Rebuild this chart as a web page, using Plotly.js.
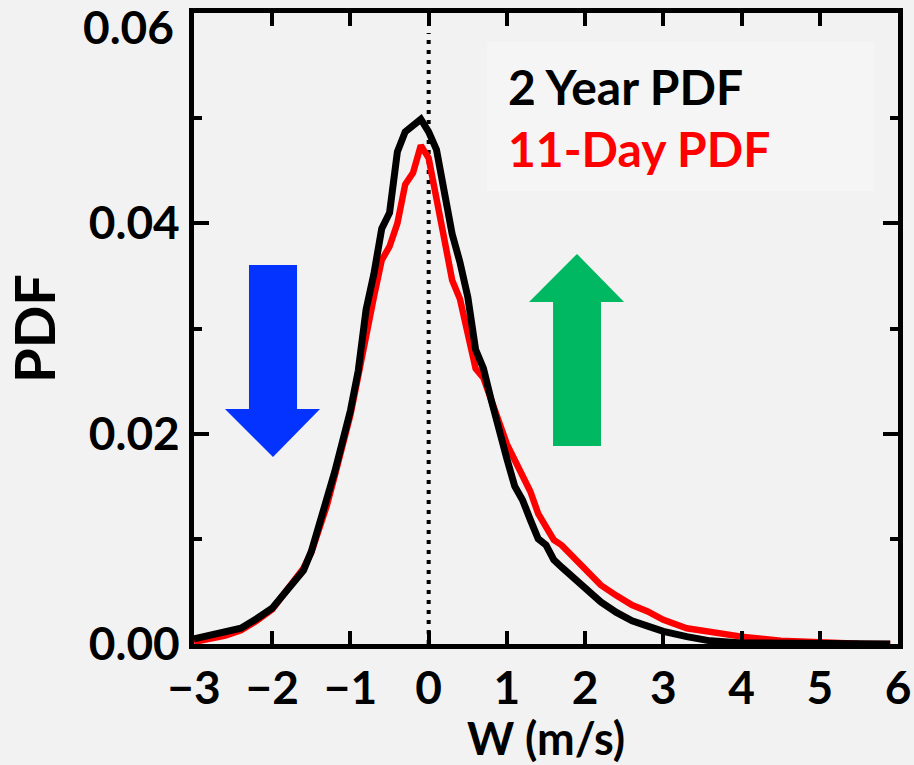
<!DOCTYPE html>
<html>
<head>
<meta charset="utf-8">
<script src="https://cdn.plot.ly/plotly-3.0.1.min.js"></script>
<style>
  html, body { margin: 0; padding: 0; background: #f2f2f2; }
  #chart { width: 914px; height: 765px; }
</style>
</head>
<body>
<div id="chart"></div>
<script>
// Vertical velocity bins (m/s)
const wBins = [-3.0, -2.8, -2.6, -2.4, -2.2, -2.0, -1.8, -1.6, -1.5, -1.4, -1.3, -1.2, -1.1, -1.0,
  -0.9, -0.8, -0.7, -0.6, -0.5, -0.4, -0.3, -0.2, -0.1, 0.0, 0.1, 0.2, 0.3, 0.4, 0.5, 0.6, 0.7,
  0.8, 0.9, 1.0, 1.1, 1.2, 1.3, 1.4, 1.5, 1.6, 1.7, 1.8, 2.0, 2.2, 2.4, 2.6, 2.8, 3.0, 3.3, 3.6,
  4.0, 4.5, 5.0, 5.5, 5.9];

// 2 Year PDF (black)
const pdfTwoYear = [0.0005, 0.0008, 0.0011, 0.0015, 0.0024, 0.0034, 0.0052, 0.0070, 0.0088, 0.0112,
  0.0135, 0.0164, 0.0193, 0.0222, 0.0260, 0.0318, 0.0352, 0.0395, 0.0410, 0.0468, 0.0487, 0.0493,
  0.0499, 0.0487, 0.0470, 0.0430, 0.0390, 0.0363, 0.0330, 0.0280, 0.0262, 0.0232, 0.0202, 0.0176,
  0.0150, 0.0137, 0.0118, 0.0100, 0.0094, 0.0080, 0.0073, 0.0066, 0.0052, 0.0040, 0.0030, 0.0022,
  0.0017, 0.0012, 0.0007, 0.0003, 0.0001, 0.00003, 0.0, 0.0, 0.0];

// 11-Day PDF (red)
const pdfElevenDay = [0.0002, 0.0005, 0.0008, 0.0013, 0.0022, 0.0033, 0.0053, 0.0072, 0.0087, 0.0110,
  0.0132, 0.0160, 0.0188, 0.0218, 0.0255, 0.0295, 0.0330, 0.0365, 0.0378, 0.0400, 0.0437, 0.0448,
  0.0474, 0.0462, 0.0420, 0.0385, 0.0346, 0.0328, 0.0295, 0.0262, 0.0253, 0.0232, 0.0213, 0.0190,
  0.0175, 0.0159, 0.0145, 0.0124, 0.0110, 0.0099, 0.0094, 0.0086, 0.0070, 0.0056, 0.0046, 0.0037,
  0.0031, 0.0023, 0.0015, 0.0011, 0.0007, 0.0003, 0.0001, 0.00003, 0.0];

const seriesNames = ['2 Year PDF', '11-Day PDF'];
const xTickVals = [-3, -2, -1, 0, 1, 2, 3, 4, 5, 6];
const yTickVals = [0.00, 0.02, 0.04, 0.06];
const yTickText = ['0.00', '0.02', '0.04', '0.06'];

const FONT = 'Lato, "Open Sans", sans-serif';
const TICK_SIZE = 46;

const traces = [
  {
    x: wBins, y: pdfElevenDay, name: seriesNames[1], type: 'scatter', mode: 'lines',
    line: { color: '#ff0000', width: 6.5 }
  },
  {
    x: wBins, y: pdfTwoYear, name: seriesNames[0], type: 'scatter', mode: 'lines',
    line: { color: '#000000', width: 7 }
  }
];

// the top label (0.06) is pushed down inside the figure, as in the original
const yTickTextShown = yTickText.map((t, i) => i === yTickText.length - 1 ? '' : t);

const layout = {
  width: 914, height: 765,
  margin: { l: 194, r: 16, t: 13, b: 121, pad: 0 },
  paper_bgcolor: '#f2f2f2',
  plot_bgcolor: '#f2f2f2',
  showlegend: false,
  font: { family: FONT, color: '#000', weight: 700 },
  xaxis: {
    range: [-3, 6], tickvals: xTickVals, ticks: 'inside', ticklen: 13, tickwidth: 4,
    tickcolor: '#000', showline: true, linewidth: 5, linecolor: '#000', mirror: 'ticks',
    showgrid: false, zeroline: false,
    tickfont: { family: FONT, size: TICK_SIZE, weight: 700, color: '#000' },
    title: { text: 'W (m/s)', font: { family: FONT, size: 45, weight: 700, color: '#000' }, standoff: 14 }
  },
  yaxis: {
    range: [0, 0.06], tickvals: yTickVals, ticktext: yTickTextShown, ticks: 'inside', ticklen: 15, tickwidth: 4,
    tickcolor: '#000', showline: true, linewidth: 5, linecolor: '#000', mirror: 'ticks',
    showgrid: false, zeroline: false,
    minor: { dtick: 0.01, tick0: 0, ticks: 'inside', ticklen: 8, tickwidth: 4, tickcolor: '#000', showgrid: false },
    tickfont: { family: FONT, size: TICK_SIZE, weight: 700, color: '#000' },
    title: { text: 'PDF', font: { family: FONT, size: 56, weight: 700, color: '#000' }, standoff: 22 }
  },
  shapes: [
    // legend box
    { type: 'rect', xref: 'paper', yref: 'paper', x0: 0.416, x1: 0.967, y0: 0.718, y1: 0.954,
      fillcolor: '#f5f5f5', line: { width: 0 }, layer: 'below' },
    // dotted zero line
    { type: 'line', xref: 'x', yref: 'y', x0: 0, x1: 0, y0: 0, y1: 0.0581,
      line: { color: '#000', width: 4, dash: '4px,6px' }, layer: 'below' },
    // blue down arrow
    { type: 'path', xref: 'x', yref: 'y',
      path: 'M -2.297 0.03604 L -1.683 0.03604 L -1.683 0.02235 L -1.389 0.02235 L -1.990 0.01778 L -2.604 0.02235 L -2.297 0.02235 Z',
      fillcolor: '#0433ff', line: { width: 0 }, layer: 'below' },
    // green up arrow
    { type: 'path', xref: 'x', yref: 'y',
      path: 'M 1.590 0.01883 L 2.203 0.01883 L 2.203 0.03252 L 2.498 0.03252 L 1.896 0.03709 L 1.283 0.03252 L 1.590 0.03252 Z',
      fillcolor: '#00b862', line: { width: 0 }, layer: 'below' }
  ],
  annotations: [
    { xref: 'paper', yref: 'paper', x: -0.026, y: 0.978, xanchor: 'right', yanchor: 'middle',
      text: yTickText[yTickText.length - 1], showarrow: false,
      font: { family: FONT, size: TICK_SIZE, weight: 700, color: '#000' } },
    { xref: 'paper', yref: 'paper', x: 0.443, y: 0.884, xanchor: 'left', yanchor: 'middle',
      text: seriesNames[0], showarrow: false,
      font: { family: FONT, size: 48, weight: 700, color: '#000000' } },
    { xref: 'paper', yref: 'paper', x: 0.443, y: 0.785, xanchor: 'left', yanchor: 'middle',
      text: seriesNames[1], showarrow: false,
      font: { family: FONT, size: 48, weight: 700, color: '#ff0000' } }
  ]
};

Plotly.newPlot('chart', traces, layout, { displayModeBar: false, staticPlot: true });
</script>
</body>
</html>
